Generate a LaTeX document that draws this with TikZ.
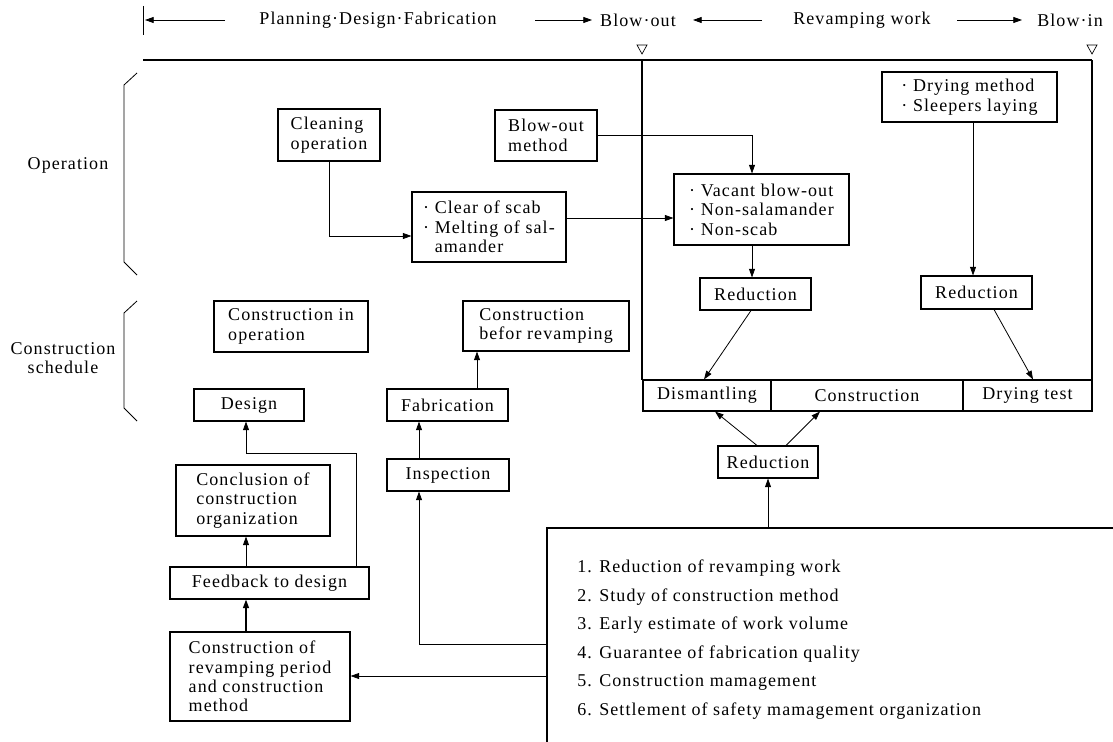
\documentclass[tikz,border=0pt]{standalone}
\usepackage{fontspec}
\setmainfont{Liberation Serif}[LetterSpace=6]
\usetikzlibrary{arrows.meta,calc}
\newcommand\myfs{\fontsize{13.5}{14.6}\selectfont}
\tikzset{
  box/.style={draw, line width=0.8pt, align=left, inner sep=0pt, font=\myfs},
  cbox/.style={box, align=center},
  arr/.style={line width=0.6pt, -{Triangle[length=6.5pt,width=4.5pt]}},
  tarr/.style={line width=1.1pt, -{Triangle[length=6.5pt,width=4.5pt]}},
  ln/.style={line width=0.6pt},
  frame/.style={line width=0.8pt},
  lbl/.style={inner sep=0pt, font=\myfs},
}
\begin{document}
\begin{tikzpicture}[x=0.75pt,y=-0.75pt]
\useasboundingbox (0,0) rectangle (1113,742);

% header
\node[lbl] (hdr1) at (378,20) {Planning·Design·Fabrication};
\node[lbl] (hdr2) at (638,20) {Blow·out};
\node[lbl] (hdr3) at (862,20) {Revamping work};
\node[lbl] (hdr4) at (1070,20) {Blow·in};
\coordinate (bartop) at (143,6);
\coordinate (barbot) at (143,35);
\draw[ln] (bartop) -- (barbot);
\coordinate (a1s) at (225,20); \coordinate (a1e) at (145,20);
\coordinate (a2s) at (535,20); \coordinate (a2e) at (592,20);
\coordinate (a3s) at (762,20); \coordinate (a3e) at (693,20);
\coordinate (a4s) at (957,20); \coordinate (a4e) at (1022,20);
\draw[arr] (a1s) -- (a1e);
\draw[arr] (a2s) -- (a2e);
\draw[arr] (a3s) -- (a3e);
\draw[arr] (a4s) -- (a4e);
% triangles
\draw[line width=0.5pt] (637,45) -- (647,45) -- (642,54) -- cycle;
\draw[line width=0.5pt] (1087,45) -- (1097,45) -- (1092,54) -- cycle;

% top thick line and frame
\coordinate (tl) at (143,60);
\coordinate (ftl) at (642,60);
\coordinate (ftr) at (1092,60);
\draw[line width=1.4pt] (tl) -- (ftr);
\draw[frame] (ftl) -- (642,380);
\draw[frame] (ftr) -- (1092,380);

% side labels and brackets
\node[lbl] (lop) at (68,165) {Operation};
\node[lbl, align=center] (lcs) at (63,358) {Construction\\schedule};
\draw[ln] (137,73) -- (124,85) -- (124,262) -- (137,275);
\draw[ln] (137,301) -- (124,313) -- (124,408) -- (137,421);

% operation boxes
\node[box, minimum width=76.5pt, minimum height=39pt] (cleaning) at (329,135) {Cleaning\\operation};
\node[box, minimum width=76.5pt, minimum height=38.25pt] (blowm) at (546,135.5) {Blow-out\\method};
\node[box, minimum width=115.5pt, minimum height=52.5pt] (clear) at (489,227) {· Clear of scab\\· Melting of sal-\\\hphantom{· }amander};
\node[box, minimum width=131.25pt, minimum height=53.25pt] (vacant) at (761.5,209.5) {· Vacant blow-out\\· Non-salamander\\· Non-scab};
\node[box, minimum width=131.25pt, minimum height=37.5pt] (drying) at (969.5,97) {· Drying method\\· Sleepers laying};
\node[cbox, minimum width=83.25pt, minimum height=24pt] (red1) at (755.5,294) {Reduction};
\node[cbox, minimum width=83.25pt, minimum height=24.75pt] (red2) at (976.5,292.5) {Reduction};

% row
\node[cbox, minimum width=96pt, minimum height=23.25pt] (dism) at (707,395.5) {Dismantling};
\node[cbox, minimum width=144pt, minimum height=23.25pt] (cons) at (867,395.5) {Construction};
\node[cbox, minimum width=96.75pt, minimum height=23.25pt] (dryt) at (1027.5,395.5) {Drying test};
\node[cbox, minimum width=75pt, minimum height=24pt] (red3) at (768,462) {Reduction};

% construction schedule boxes
\node[box, minimum width=115.5pt, minimum height=38.25pt] (cio) at (291,326.5) {Construction in\\operation};
\node[box, minimum width=124.5pt, minimum height=37.5pt] (cbr) at (546,326) {Construction\\befor revamping};
\node[cbox, minimum width=82.5pt, minimum height=24pt] (design) at (249,405) {Design};
\node[cbox, minimum width=90.75pt, minimum height=24pt] (fab) at (447.5,405) {Fabrication};
\node[cbox, minimum width=91.5pt, minimum height=24pt] (insp) at (448,475) {Inspection};
\node[box, minimum width=115.5pt, minimum height=53.25pt] (concl) at (253,500.5) {Conclusion of\\construction\\organization};
\node[cbox, minimum width=149.25pt, minimum height=24pt] (feedback) at (269.5,583) {Feedback to design};
\node[box, minimum width=135pt, minimum height=66.75pt] (crp) at (260,676.5) {Construction of\\revamping period\\and construction\\method};

% big box
\coordinate (bbl) at (547,742);
\coordinate (bbtl) at (547,528);
\coordinate (bbr) at (1113,528);
\draw[frame] (bbl) -- (bbtl) -- (bbr);
\node[lbl, anchor=base west] (it1) at (577,572) {1. Reduction of revamping work};
\node[lbl, anchor=base west] (it2) at (577,601) {2. Study of construction method};
\node[lbl, anchor=base west] (it3) at (577,629) {3. Early estimate of work volume};
\node[lbl, anchor=base west] (it4) at (577,658) {4. Guarantee of fabrication quality};
\node[lbl, anchor=base west] (it5) at (577,686) {5. Construction mamagement};
\node[lbl, anchor=base west] (it6) at (577,715) {6. Settlement of safety mamagement organization};

% connectors - operation
\draw[arr] (cleaning.south) |- ($(clear.west)+(0,9)$);
\draw[arr] (blowm.east) -| ($(vacant.north)+(-9.5,0)$);
\coordinate (cs) at ($(clear.east)+(0,-9)$);
\draw[arr] (cs) -- (cs -| vacant.west);
\coordinate (vs) at ($(vacant.south)+(-9.5,0)$);
\draw[arr] (vs) -- (vs |- red1.north);
\coordinate (ds) at ($(drying.south)+(3.5,0)$);
\draw[arr] (ds) -- (ds |- red2.north);
\draw[arr] ($(red1.south)+(-4.5,0)$) -- ($(dism.north)+(-3,0)$);
\draw[arr] ($(red2.south)+(17.5,0)$) -- ($(dryt.north)+(5.5,0)$);
\draw[arr] ($(red3.north)+(-11,0)$) -- ($(dism.south)+(8,0)$);
\draw[arr] ($(red3.north)+(18,0)$) -- ($(cons.south)+(-47,0)$);
\draw[arr] (red3.south |- bbtl) -- (red3.south);

% connectors - schedule
\draw[arr] ($(feedback.north)+(86.5,0)$) |- ($(design.south)+(-3,32)$) -- ($(design.south)+(-3,0)$);
\draw[arr] ($(feedback.north)+(-23.5,0)$) -- ($(concl.south)+(-7,0)$);
\draw[tarr] ($(crp.north)+(-14,0)$) -- ($(feedback.south)+(-23.5,0)$);
\coordinate (fs) at ($(fab.north)+(29.5,0)$);
\draw[arr] (fs) -- (fs |- cbr.south);
\coordinate (is) at ($(insp.north)+(-29,0)$);
\draw[arr] (is) -- (is |- fab.south);
\coordinate (b1) at (547,644);
\draw[arr] (b1) -| ($(insp.south)+(-29,0)$);
\coordinate (b2) at (547,676);
\draw[arr] (b2) -- (b2 -| crp.east);
\end{tikzpicture}
\end{document}
